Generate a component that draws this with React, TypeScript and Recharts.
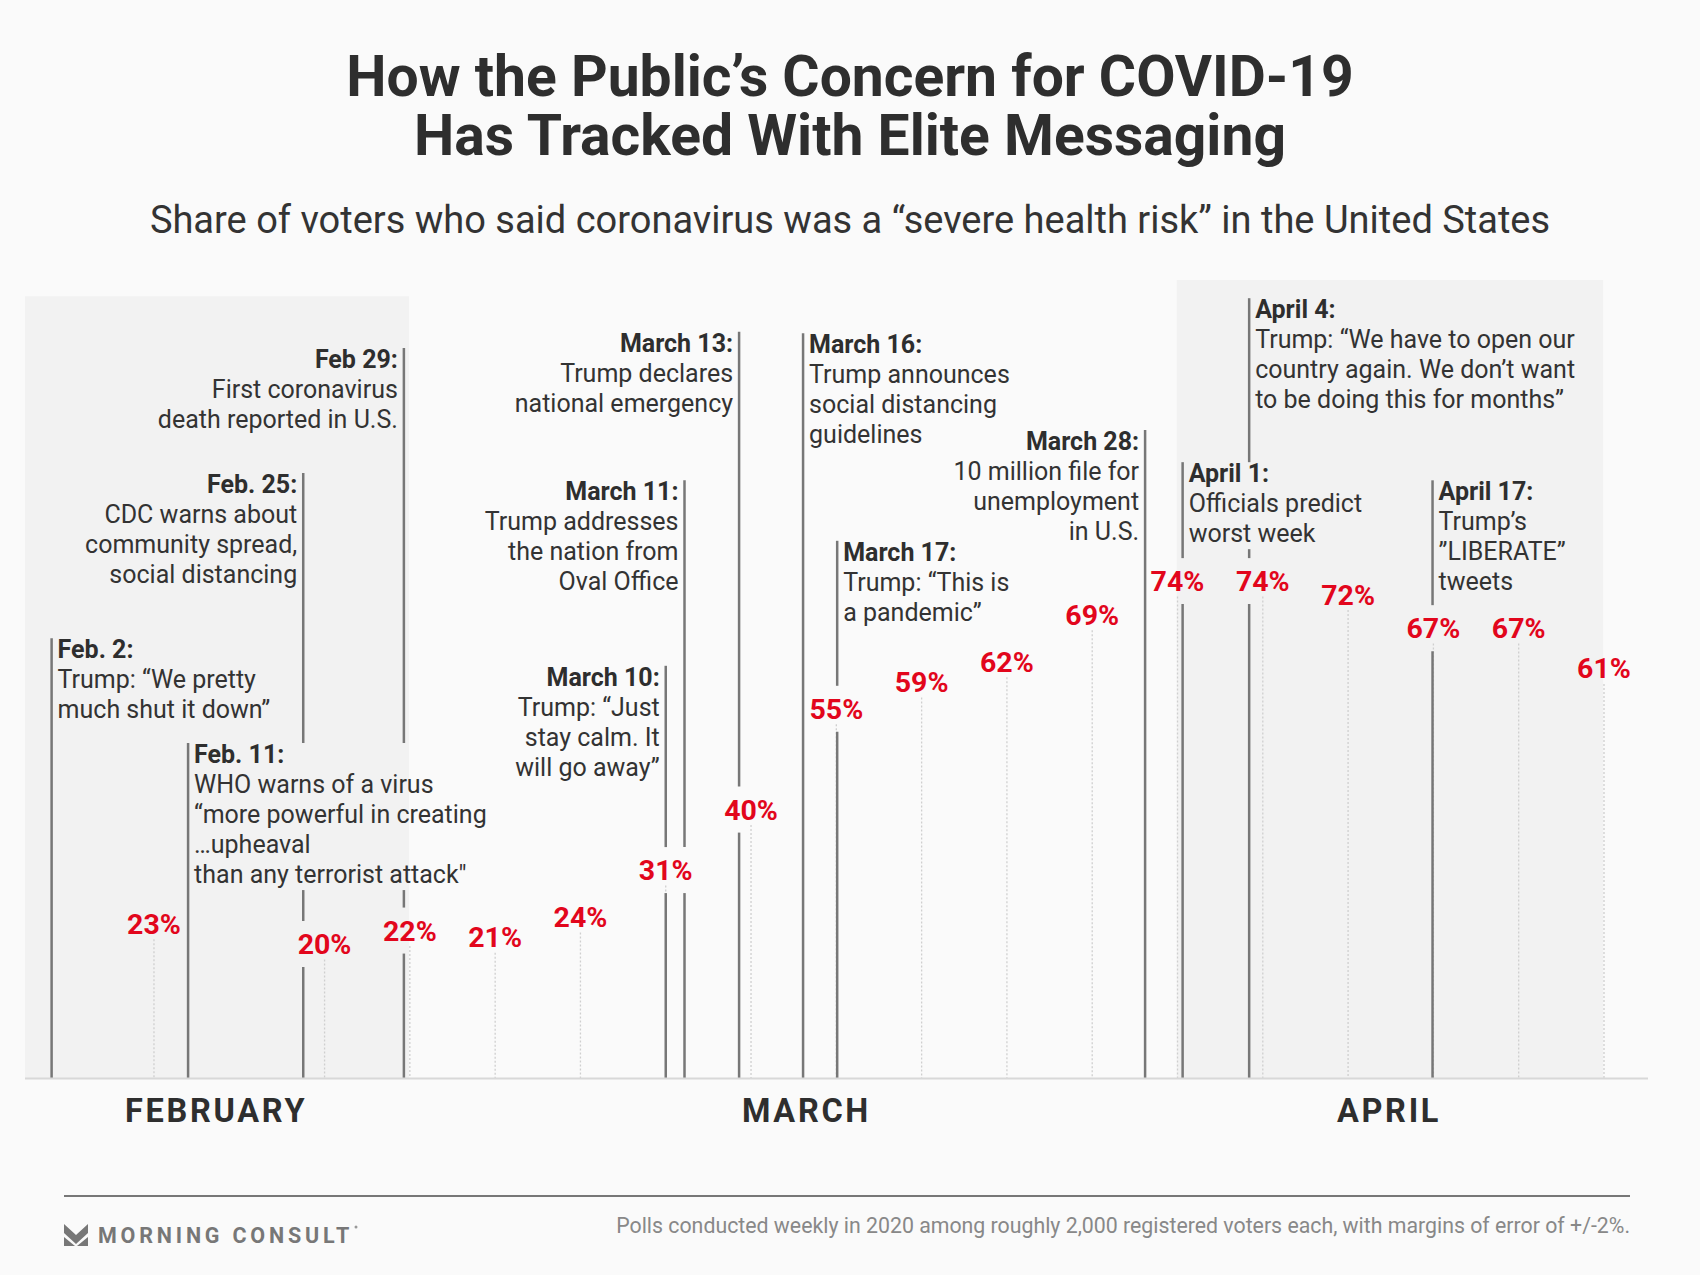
import React from "react";
import {
  ComposedChart,
  ReferenceArea,
  ReferenceLine,
  Scatter,
  XAxis,
  YAxis,
} from "recharts";

// weekly polls; x = weeks since the first poll (no reading in week 1)
const pollWeeks = [0, 2, 3, 4, 5, 6, 7, 8, 9, 10, 11, 12, 13, 14, 15, 16, 17];
const pollShares = [23, 20, 22, 21, 24, 31, 40, 55, 59, 62, 69, 74, 74, 72, 67, 67, 61];

// annotated events: where the marker sits (weeks) and how high it reaches (share units)
const eventWeeks = [-1.2, 0.4, 1.75, 2.93, 6.0, 6.22, 6.86, 7.61, 8.01, 11.62, 12.06, 12.84, 14.99];
const eventTops = [65.5, 49.9, 90.1, 108.7, 61.4, 89.0, 111.1, 110.9, 80.0, 96.5, 91.7, 116.1, 89.0];
const eventTitles = [
  "Feb. 2:",
  "Feb. 11:",
  "Feb. 25:",
  "Feb 29:",
  "March 10:",
  "March 11:",
  "March 13:",
  "March 16:",
  "March 17:",
  "March 28:",
  "April 1:",
  "April 4:",
  "April 17:",
];
const eventNotes = [
  ["Trump: “We pretty", "much shut it down”"],
  ["WHO warns of a virus", "“more powerful in creating", "…upheaval", "than any terrorist attack\""],
  ["CDC warns about", "community spread,", "social distancing"],
  ["First coronavirus", "death reported in U.S."],
  ["Trump: “Just", "stay calm. It", "will go away”"],
  ["Trump addresses", "the nation from", "Oval Office"],
  ["Trump declares", "national emergency"],
  ["Trump announces", "social distancing", "guidelines"],
  ["Trump: “This is", "a pandemic”"],
  ["10 million file for", "unemployment", "in U.S."],
  ["Officials predict", "worst week"],
  ["Trump: “We have to open our", "country again. We don’t want", "to be doing this for months”"],
  ["Trump’s", "”LIBERATE”", "tweets"],
];
const eventTextSide = [
  "right", "right", "left", "left", "left", "left", "left",
  "right", "right", "left", "right", "right", "right",
];

// shaded periods
const shadeStarts = [-1.512, 11.99];
const shadeEnds = [2.99, 16.99];
const shadeTops = [116.4, 118.8];

const monthTicks = [0.73, 7.65, 14.48];
const monthNames = ["FEBRUARY", "MARCH", "APRIL"];

const W = 1700;
const H = 1275;
const MARGIN = { top: 272, right: 52, bottom: 136.6, left: 25 };
const AXIS_H = 60;
const X_DOMAIN: [number, number] = [-1.512, 17.516];
const Y_DOMAIN: [number, number] = [0, 120];
const PX_X = (W - MARGIN.left - MARGIN.right) / (X_DOMAIN[1] - X_DOMAIN[0]);
const PX_Y = (H - MARGIN.top - MARGIN.bottom - AXIS_H) / (Y_DOMAIN[1] - Y_DOMAIN[0]);

const FONT = "Roboto, 'Noto Sans', sans-serif";
const NOTE_SIZE = 25;
const NOTE_LINE = 30;
const HEAD_DY = 20;
const TEXT_GAP = 6;
const RED = "#e2061c";
const INK = "#2e2e2e";

let measureCtx: CanvasRenderingContext2D | null = null;
function textWidth(s: string, weight: number) {
  if (!measureCtx) measureCtx = document.createElement("canvas").getContext("2d");
  if (!measureCtx) return s.length * NOTE_SIZE * 0.5;
  measureCtx.font = `${weight} ${NOTE_SIZE}px Roboto`;
  return measureCtx.measureText(s).width;
}

function blockWidth(i: number) {
  return Math.max(
    textWidth(eventTitles[i], 700),
    ...eventNotes[i].map((s) => textWidth(s, 400))
  );
}

// visible pieces of an event line: broken where a label or a text block sits on it
function lineSegments(i: number): [number, number][] {
  const x = eventWeeks[i];
  const gaps: [number, number][] = [];
  pollWeeks.forEach((w, j) => {
    if (Math.abs(w - x) * PX_X < 30) {
      gaps.push([pollShares[j] - 23 / PX_Y, pollShares[j] + 23 / PX_Y]);
    }
  });
  eventWeeks.forEach((w, j) => {
    if (j === i) return;
    const bw = blockWidth(j);
    const a = eventTextSide[j] === "right" ? w + TEXT_GAP / PX_X : w - (TEXT_GAP + bw) / PX_X;
    const b = eventTextSide[j] === "right" ? w + (TEXT_GAP + bw) / PX_X : w - TEXT_GAP / PX_X;
    if (x > a - 3 / PX_X && x < b + 3 / PX_X) {
      const n = eventNotes[j].length;
      gaps.push([eventTops[j] - (HEAD_DY + NOTE_LINE * n + 7) / PX_Y, eventTops[j]]);
    }
  });
  gaps.sort((p, q) => q[1] - p[1]);
  const segs: [number, number][] = [];
  let cur = eventTops[i];
  for (const [lo, hi] of gaps) {
    if (lo >= cur) continue;
    if (hi < cur) segs.push([Math.max(hi, 0), cur]);
    cur = Math.min(cur, lo);
  }
  if (cur > 0) segs.push([0, cur]);
  return segs;
}

const pollData = pollWeeks.map((w, i) => ({ x: w, y: pollShares[i], i }));
const eventData = eventWeeks.map((w, i) => ({ x: w, y: eventTops[i], i }));

const PollLabel = (props: any) => {
  const { cx, cy, payload } = props;
  return (
    <text
      x={cx}
      y={cy + 10}
      textAnchor="middle"
      fontFamily={FONT}
      fontWeight={700}
      fontSize={28.5}
      fill={RED}
    >
      {payload.y}%
    </text>
  );
};

const EventLabel = (props: any) => {
  const { cx, cy, payload } = props;
  const i = payload.i;
  const right = eventTextSide[i] === "right";
  const tx = right ? cx + TEXT_GAP : cx - TEXT_GAP;
  return (
    <text
      x={tx}
      y={cy + HEAD_DY}
      textAnchor={right ? "start" : "end"}
      fontFamily={FONT}
      fontSize={NOTE_SIZE}
      fill="#333"
    >
      <tspan x={tx} fontWeight={700} fill={INK}>
        {eventTitles[i]}
      </tspan>
      {eventNotes[i].map((s, k) => (
        <tspan key={k} x={tx} dy={NOTE_LINE}>
          {s}
        </tspan>
      ))}
    </text>
  );
};

const MonthTick = (props: any) => {
  const { x, y, payload } = props;
  let idx = 0;
  monthTicks.forEach((t, k) => {
    if (Math.abs(t - payload.value) < Math.abs(monthTicks[idx] - payload.value)) idx = k;
  });
  return (
    <text
      x={x}
      y={y + 43.6}
      textAnchor="middle"
      fontFamily={FONT}
      fontWeight={700}
      fontSize={32.5}
      letterSpacing={2.7}
      fill={INK}
    >
      {monthNames[idx]}
    </text>
  );
};

export default function App() {
  return (
    <div
      style={{
        position: "absolute",
        left: 0,
        top: 0,
        width: W,
        height: H,
        background: "#fafafa",
        overflow: "hidden",
      }}
    >
      <ComposedChart width={W} height={H} margin={MARGIN}>
        <XAxis
          dataKey="x"
          type="number"
          domain={X_DOMAIN}
          allowDataOverflow
          ticks={monthTicks}
          interval={0}
          height={AXIS_H}
          tickLine={false}
          tickSize={0}
          tickMargin={0}
          axisLine={{ stroke: "#d8d8d8", strokeWidth: 2 }}
          tick={<MonthTick />}
        />
        <YAxis dataKey="y" type="number" domain={Y_DOMAIN} allowDataOverflow hide width={0} />

        {shadeStarts.map((s, i) => (
          <ReferenceArea
            key={`shade-${i}`}
            x1={s}
            x2={shadeEnds[i]}
            y1={0}
            y2={shadeTops[i]}
            fill="#f2f2f2"
            fillOpacity={1}
            stroke="none"
            ifOverflow="visible"
          />
        ))}

        {pollWeeks.map((w, i) => (
          <ReferenceLine
            key={`dot-${i}`}
            segment={[
              { x: w, y: pollShares[i] - 2.3 },
              { x: w, y: 0 },
            ]}
            stroke="#cfcfcf"
            strokeWidth={1.3}
            strokeDasharray="2 2"
            ifOverflow="visible"
          />
        ))}

        {eventWeeks.map((w, i) =>
          lineSegments(i).map(([lo, hi], k) => (
            <ReferenceLine
              key={`ev-${i}-${k}`}
              segment={[
                { x: w, y: hi },
                { x: w, y: lo },
              ]}
              stroke="#777"
              strokeWidth={2.5}
              ifOverflow="visible"
            />
          ))
        )}

        <Scatter
          data={eventData}
          isAnimationActive={false}
          shape={(p: any) => <EventLabel {...p} />}
        />
        <Scatter
          data={pollData}
          isAnimationActive={false}
          shape={(p: any) => <PollLabel {...p} />}
        />
      </ComposedChart>

      <svg
        width={W}
        height={H}
        style={{ position: "absolute", left: 0, top: 0, pointerEvents: "none" }}
      >
        <g fontFamily={FONT} fill={INK} textAnchor="middle">
          <text x={850} y={96} fontSize={57} fontWeight={700}>
            How the Public’s Concern for COVID-19
          </text>
          <text x={850} y={155} fontSize={57} fontWeight={700}>
            Has Tracked With Elite Messaging
          </text>
          <text x={850} y={233} fontSize={38} fill="#333">
            Share of voters who said coronavirus was a “severe health risk” in the United States
          </text>
        </g>

        <line x1={64} x2={1630} y1={1196} y2={1196} stroke="#777" strokeWidth={2} />
        <g fill="#777">
          <polygon points="64,1224 76,1235 88,1224 88,1233 76,1244 64,1233" />
          <polygon points="64,1237 75,1246 64,1246" />
          <polygon points="88,1237 88,1246 77,1246" />
        </g>
        <text
          x={98}
          y={1243}
          fontFamily={FONT}
          fontWeight={700}
          fontSize={21.5}
          letterSpacing={3.8}
          fill="#777"
        >
          MORNING CONSULT
        </text>
        <circle cx={356} cy={1227} r={1.5} fill="#999" />
        <text
          x={1630}
          y={1233}
          textAnchor="end"
          fontFamily={FONT}
          fontSize={21.3}
          fill="#888"
        >
          Polls conducted weekly in 2020 among roughly 2,000 registered voters each, with margins of error of +/-2%.
        </text>
      </svg>
    </div>
  );
}
